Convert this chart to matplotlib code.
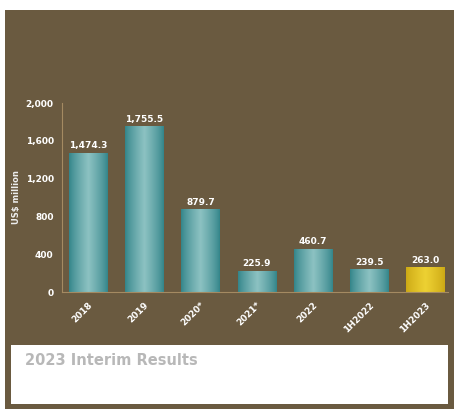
import numpy as np
import matplotlib.pyplot as plt
from matplotlib.patches import Rectangle

# Data
periods = ["2018", "2019", "2020*", "2021*", "2022", "1H2022", "1H2023"]
values = [1474.3, 1755.5, 879.7, 225.9, 460.7, 239.5, 263.0]
value_labels = ["1,474.3", "1,755.5", "879.7", "225.9", "460.7", "239.5", "263.0"]
yticks = [0, 400, 800, 1200, 1600, 2000]
ytick_labels = ["0", "400", "800", "1,200", "1,600", "2,000"]

brown = "#6a5a40"
axis_col = "#a48a62"

fig = plt.figure(figsize=(4.54, 4.12), dpi=100)
fig.patch.set_facecolor("white")

# brown panel and white caption box
fig.patches.append(Rectangle((0.011, 0.007), 1.0, 0.968, transform=fig.transFigure,
                             facecolor=brown, edgecolor="none", zorder=-2))
fig.patches.append(Rectangle((0.024, 0.019), 0.963, 0.143, transform=fig.transFigure,
                             facecolor="white", edgecolor="none", zorder=-1))
fig.text(0.055, 0.125, "2023 Interim Results", color="#b8b8b8", fontsize=10.5,
         fontweight="bold", va="center", ha="left")

ax = fig.add_axes([0.1366, 0.291, 0.85, 0.459])
ax.set_zorder(5)
ax.set_facecolor("none")

x = np.arange(len(periods))
bars = ax.bar(x, values, width=0.68, color="none", edgecolor="none")

# cylindrical shading for the bars
grad = np.linspace(0, 1, 64)
shade = np.clip(1 - np.abs(grad - 0.5) * 2.0, 0, 1) ** 0.8
for i, b in enumerate(bars):
    if i == len(bars) - 1:
        dark, light = np.array([0.80, 0.66, 0.08]), np.array([0.93, 0.82, 0.20])
    else:
        dark, light = np.array([0.20, 0.52, 0.54]), np.array([0.55, 0.76, 0.76])
    img = dark[None, :] + (light - dark)[None, :] * shade[:, None]
    img = img[None, :, :]
    x0, y0 = b.get_x(), b.get_y()
    w, h = b.get_width(), b.get_height()
    im = ax.imshow(img, extent=[x0, x0 + w, y0, y0 + h], aspect="auto", zorder=2)
    clip = Rectangle((x0, y0), w, h, transform=ax.transData, facecolor="none",
                     edgecolor="none")
    ax.add_patch(clip)
    im.set_clip_path(clip)
    ax.text(x0 + w / 2, h + 25, value_labels[i], ha="center", va="bottom",
            color="white", fontsize=6.5, fontweight="bold", zorder=3)

ax.set_xlim(-0.46, 6.4)
ax.set_ylim(0, 2000)
ax.set_xticks(x)
ax.set_xticklabels(periods, rotation=45, ha="right", rotation_mode="anchor",
                   color="white", fontsize=6.5, fontweight="bold")
ax.set_yticks(yticks)
ax.set_yticklabels(ytick_labels, color="white", fontsize=6.5, fontweight="bold")
ax.tick_params(length=0, pad=6)
ax.set_ylabel("US$ million", color="#eeeeee", fontsize=6, fontweight="bold", labelpad=3)

for s in ["top", "right"]:
    ax.spines[s].set_visible(False)
for s in ["left", "bottom"]:
    ax.spines[s].set_color(axis_col)
    ax.spines[s].set_linewidth(0.8)

fig.savefig("out.png", dpi=100, facecolor=fig.get_facecolor())
